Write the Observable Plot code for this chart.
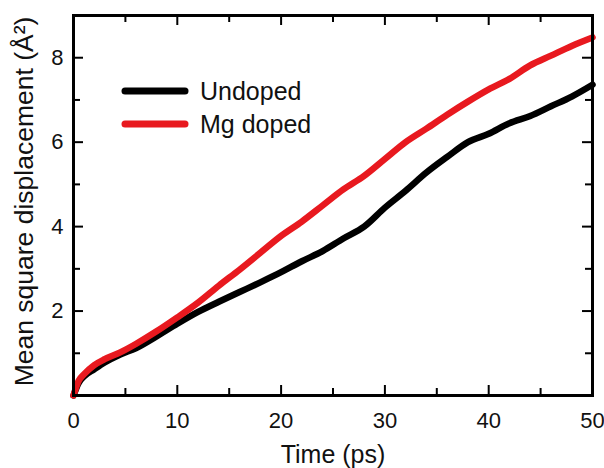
<!DOCTYPE html>
<html><head><meta charset="utf-8">
<script src="https://cdn.jsdelivr.net/npm/d3@7"></script>
<script src="https://cdn.jsdelivr.net/npm/@observablehq/plot@0.6"></script>
<style>body{margin:0;background:#fff}</style>
</head><body><div id="chart"></div>
<script>
const time    = [0, 0.5, 1, 2, 3, 4.5, 6, 8, 10, 12, 14, 16, 18, 20, 22, 24, 26, 28, 30, 32, 34, 36, 38, 40, 42, 44, 46, 48, 50];
const undoped = [0, 0.30, 0.45, 0.62, 0.78, 0.97, 1.12, 1.40, 1.70, 1.98, 2.22, 2.45, 2.68, 2.92, 3.18, 3.42, 3.72, 4.00, 4.45, 4.85, 5.28, 5.65, 6.00, 6.20, 6.45, 6.62, 6.85, 7.08, 7.36];
const mgDoped = [0, 0.35, 0.50, 0.72, 0.86, 1.02, 1.22, 1.52, 1.85, 2.20, 2.60, 2.98, 3.38, 3.78, 4.12, 4.50, 4.88, 5.20, 5.60, 6.00, 6.32, 6.65, 6.96, 7.25, 7.50, 7.82, 8.05, 8.28, 8.48];
const seriesNames  = ["Undoped", "Mg doped"];
const seriesColors = ["#000000", "#e8191f"];
const xTicks = [0, 10, 20, 30, 40, 50];
const xMinor = [5, 15, 25, 35, 45];
const yTicks = [2, 4, 6, 8];
const yMinor = [1, 3, 5, 7];
const xTitle = "Time (ps)";
const yTitle = "Mean square displacement (Å²)";

const data = [
  ...time.map((t, i) => ({t, v: undoped[i], s: seriesNames[0]})),
  ...time.map((t, i) => ({t, v: mgDoped[i], s: seriesNames[1]}))
];

const W = 604, H = 468, mL = 73, mR = 12, mT = 15, mB = 73;
const pW = W - mL - mR, pH = H - mT - mB;
const major = 10, minor = 7;

function legend(index, scales, values, dims) {
  const g = d3.create("svg:g");
  seriesNames.forEach((name, i) => {
    const y = dims.marginTop + 76 + i * 33;
    g.append("line").attr("x1", dims.marginLeft + 52).attr("x2", dims.marginLeft + 112)
      .attr("y1", y).attr("y2", y).attr("stroke", scales.color(name))
      .attr("stroke-width", 7).attr("stroke-linecap", "round");
    g.append("text").attr("x", dims.marginLeft + 127).attr("y", y).attr("dy", "0.35em")
      .attr("text-anchor", "start")
      .attr("font-size", 25).attr("fill", "#111").text(name);
  });
  return g.node();
}

const chart = Plot.plot({
  width: W, height: H,
  marginLeft: mL, marginRight: mR, marginTop: mT, marginBottom: mB,
  style: {fontFamily: "'Liberation Sans', Arial, sans-serif", background: "#fff", color: "#111"},
  x: {domain: [0, 50]},
  y: {domain: [0, 9]},
  color: {domain: seriesNames, range: seriesColors},
  marks: [
    Plot.line(data, {x: "t", y: "v", stroke: "s", z: "s", strokeWidth: 6.5, strokeLinecap: "round", strokeLinejoin: "round", curve: "monotone-x"}),
    Plot.tickX(xTicks, {x: d => d, insetTop: pH - major, stroke: "#000", strokeWidth: 2}),
    Plot.tickX(xTicks, {x: d => d, insetBottom: pH - major, stroke: "#000", strokeWidth: 2}),
    Plot.tickX(xMinor, {x: d => d, insetTop: pH - minor, stroke: "#000", strokeWidth: 2}),
    Plot.tickX(xMinor, {x: d => d, insetBottom: pH - minor, stroke: "#000", strokeWidth: 2}),
    Plot.tickY(yTicks, {y: d => d, insetRight: pW - major, stroke: "#000", strokeWidth: 2}),
    Plot.tickY(yTicks, {y: d => d, insetLeft: pW - major, stroke: "#000", strokeWidth: 2}),
    Plot.tickY(yMinor, {y: d => d, insetRight: pW - minor, stroke: "#000", strokeWidth: 2}),
    Plot.tickY(yMinor, {y: d => d, insetLeft: pW - minor, stroke: "#000", strokeWidth: 2}),
    Plot.frame({stroke: "#000", strokeWidth: 3}),
    Plot.axisX({ticks: xTicks, tickSize: 0, tickPadding: 17, fontSize: 22, label: null}),
    Plot.axisY({ticks: yTicks, tickSize: 0, tickPadding: 10, fontSize: 22, label: null}),
    Plot.text([xTitle], {frameAnchor: "bottom", dy: 59, lineAnchor: "middle", fontSize: 25, fill: "#111"}),
    Plot.text([yTitle], {frameAnchor: "left", dx: -49, dy: -4, rotate: -90, textAnchor: "middle", lineAnchor: "middle", fontSize: 26.5, fill: "#111"}),
    legend
  ]
});
document.getElementById("chart").append(chart);
</script>
</body></html>
